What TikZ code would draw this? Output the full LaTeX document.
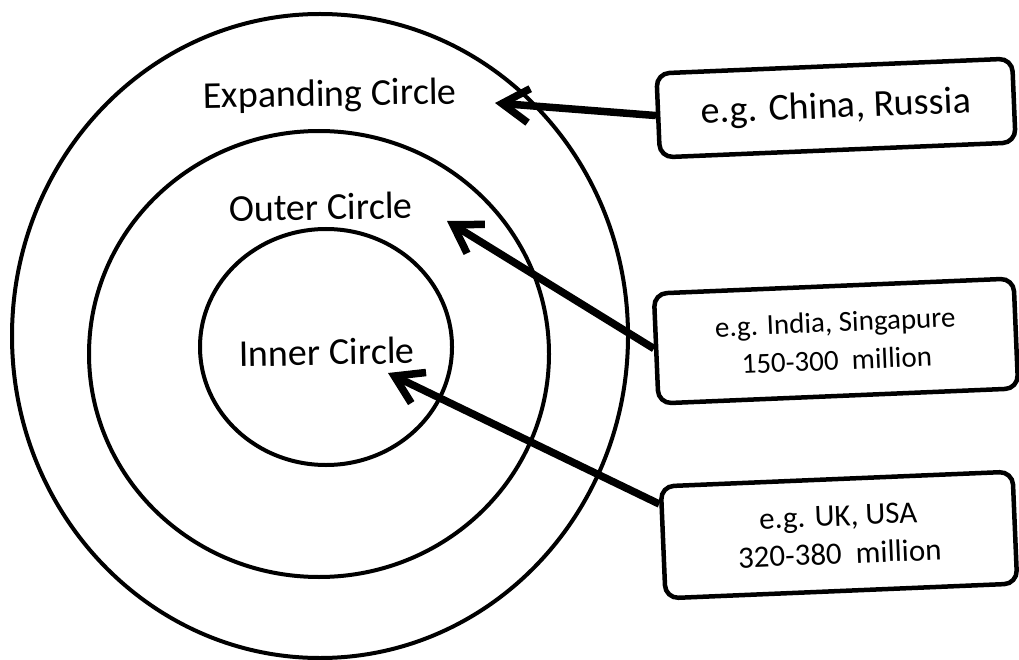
\documentclass[tikz,border=0pt]{standalone}
\usepackage{fontspec}
\setmainfont{Carlito}
\usetikzlibrary{arrows.meta,shapes.geometric,calc}
\begin{document}
\begin{tikzpicture}[x=1pt,y=-1pt,
  ring/.style={draw,ellipse,line width=4pt,inner sep=0pt},
  lbl/.style={font=\fontsize{38}{44}\selectfont,anchor=base,inner sep=0pt,rotate=1},
  infobox/.style={draw,rectangle,rounded corners=13pt,line width=4.5pt,rotate=2.4,align=center,inner sep=0pt},
  pointer/.style={line width=7.5pt,-{Straight Barb[length=27pt,width=34pt]}}]
\useasboundingbox (0,0) rectangle (1019,660);
% circles
\node[ring,minimum width=616pt,minimum height=644pt] (expanding) at (320,336) {};
\node[ring,minimum width=460pt,minimum height=446pt] (outer) at (319,354) {};
\node[ring,minimum width=252pt,minimum height=236pt] (inner) at (326,347) {};
% labels
\node[lbl] (lexp) at (330,106) {Expanding Circle};
\node[lbl] (lout) at (321,220) {Outer Circle};
\node[lbl] (linn) at (327,365) {Inner Circle};
% boxes
\node[infobox,minimum width=356pt,minimum height=84pt,font=\fontsize{38}{44}\selectfont] (b1) at (836,108) {e.g. China, Russia};
\node[infobox,minimum width=360pt,minimum height=110pt,font=\fontsize{29}{38}\selectfont] (b2) at (836,341) {e.g. India, Singapure\\150-300~~million};
\node[infobox,minimum width=352pt,minimum height=112pt,font=\fontsize{31}{38}\selectfont] (b3) at (839,535) {e.g. UK, USA\\320-380~~million};
% arrow tips
\coordinate (t1) at (495,103);
\coordinate (t2) at (447,221);
\coordinate (t3) at (388,373);
\coordinate (s3) at ($(b3.north west)!0.17!(b3.south west)$);
\draw[pointer] (b1.west) -- (t1);
\draw[pointer] (b2.west) -- (t2);
\draw[pointer] (s3) -- (t3);
\end{tikzpicture}
\end{document}
